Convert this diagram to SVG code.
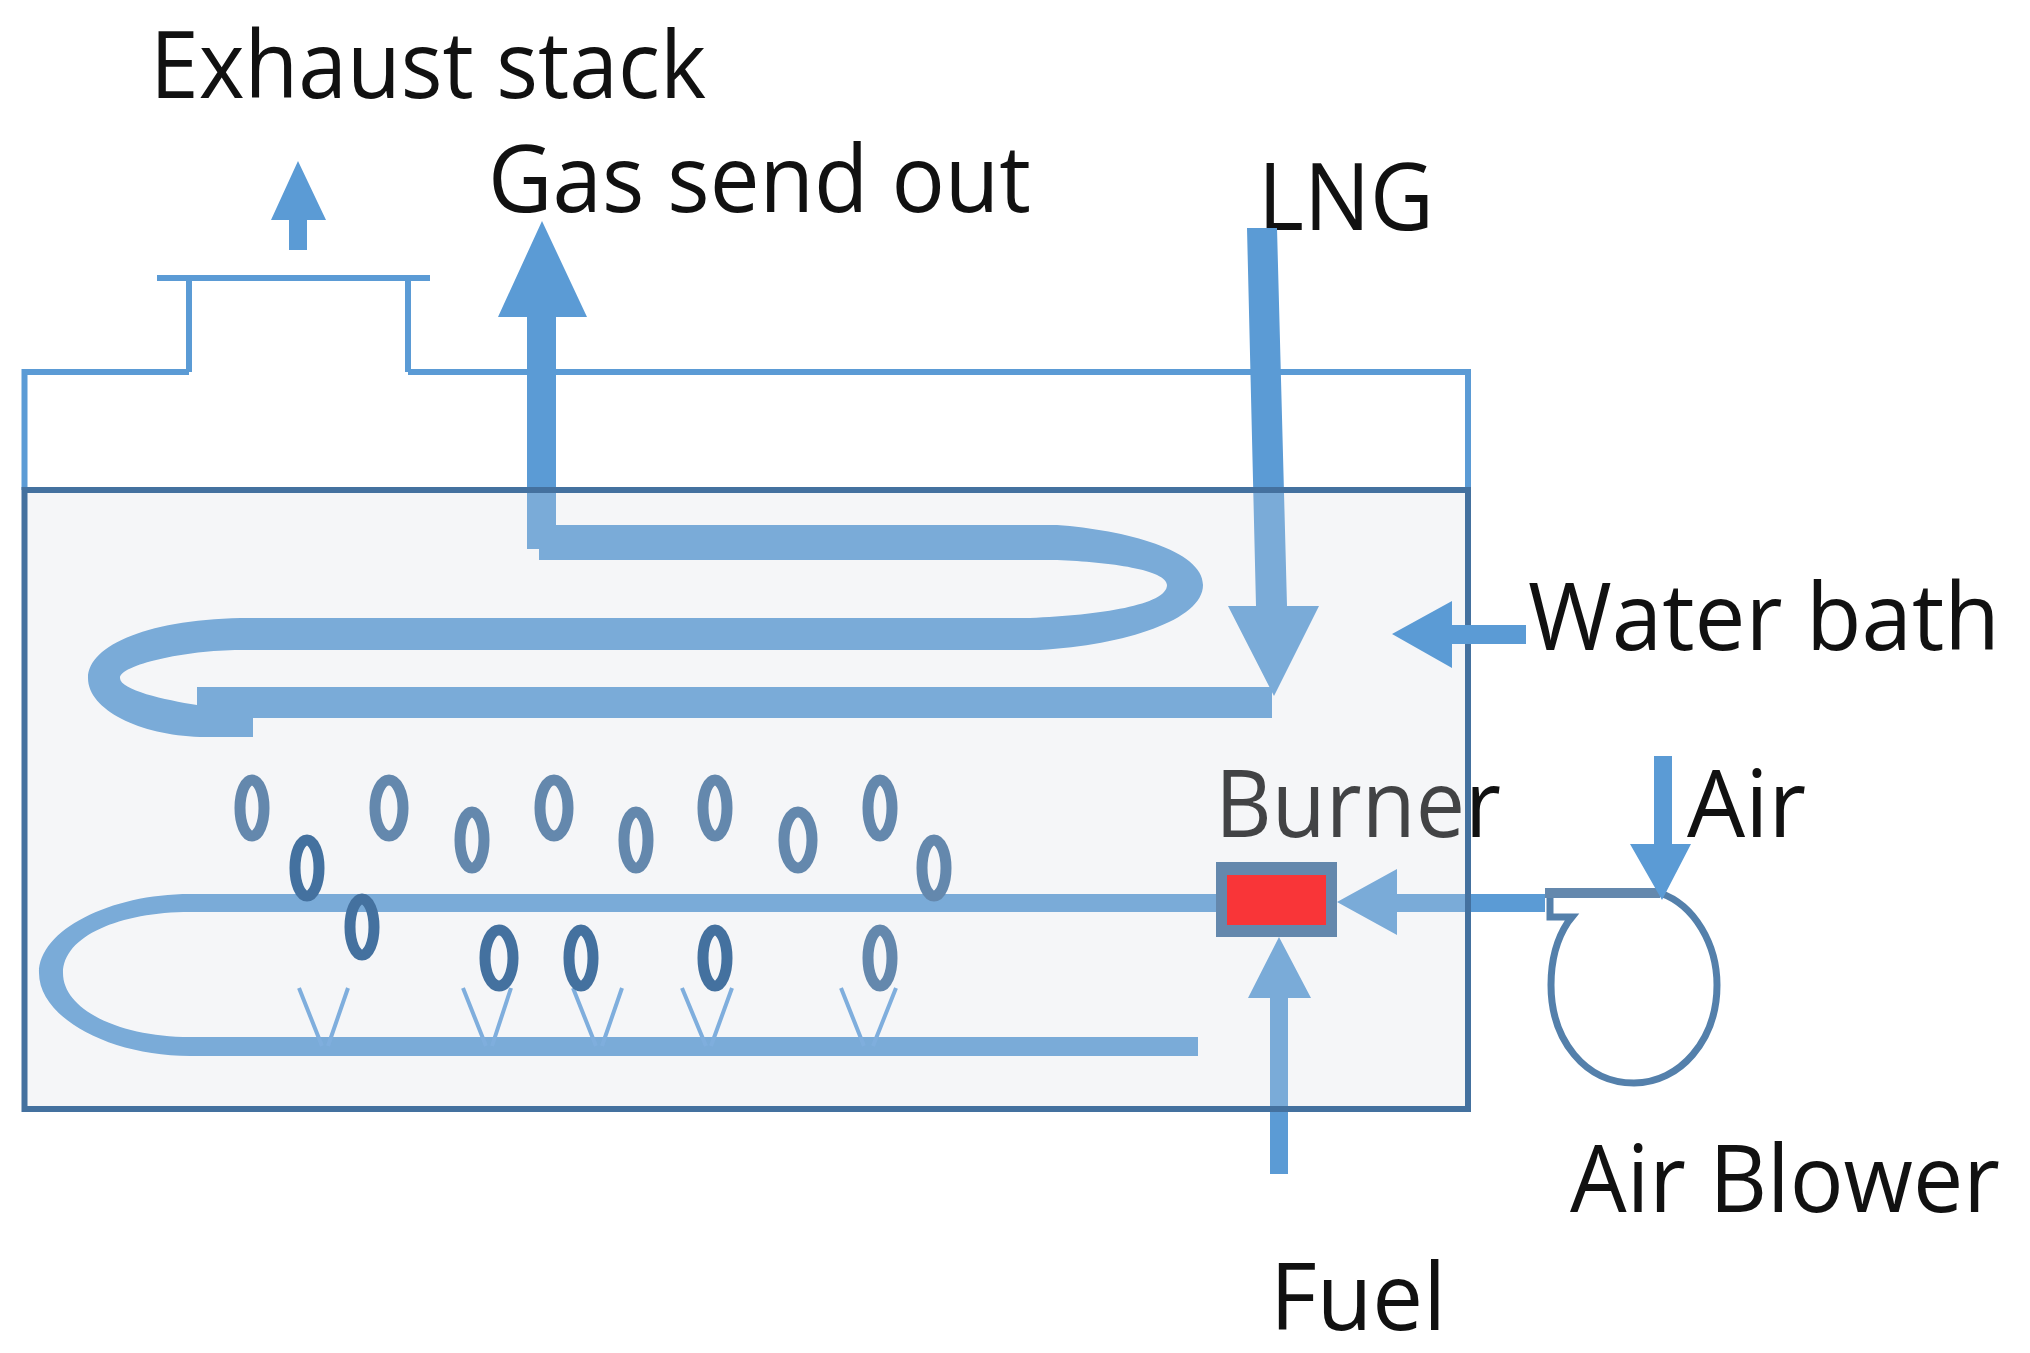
<svg xmlns="http://www.w3.org/2000/svg" width="2030" height="1353" viewBox="0 0 2030 1353">
<style>
.t{font-family:"Open Sans","Liberation Sans",sans-serif;font-size:93px;fill:#111}
.b{fill:#5B9BD5}
.o{fill:none;stroke:#5B9BD5;stroke-width:6}
.v{fill:none;stroke:#7FAEDD;stroke-width:4}
.l{fill:none;stroke:#6488AD;stroke-width:11}
.d{fill:none;stroke:#44719F;stroke-width:11}
</style>
<rect width="2030" height="1353" fill="#fff"/>
<g id="labels">
<text class="t" x="150" y="98" textLength="556" lengthAdjust="spacingAndGlyphs">Exhaust stack</text>
<text class="t" x="488" y="212" textLength="543" lengthAdjust="spacingAndGlyphs">Gas send out</text>
<text class="t" x="1258" y="230" textLength="176" lengthAdjust="spacingAndGlyphs">LNG</text>
<text class="t" x="1528" y="650" textLength="472" lengthAdjust="spacingAndGlyphs">Water bath</text>
<text class="t" x="1215" y="837" textLength="286" lengthAdjust="spacingAndGlyphs">Burner</text>
<text class="t" x="1687" y="837" textLength="119" lengthAdjust="spacingAndGlyphs">Air</text>
<text class="t" x="1570" y="1212" textLength="430" lengthAdjust="spacingAndGlyphs">Air Blower</text>
<text class="t" x="1270" y="1330" textLength="176" lengthAdjust="spacingAndGlyphs">Fuel</text>
</g>
<g id="stack">
<path class="o" d="M157 278H430M189 278V372M408 278V372M24.500 490V372H189M408 372H1468V490"/>
</g>
<g id="connectors">
<path id="exhaust-arrow" class="b" d="M298 161L326 220H307V250H289V220H271Z"/>
<path id="tube-out" class="b" d="M542 221L587 317H556V525H1057C1125 530 1203 550 1203 585C1203 620 1125 645 1040 650H240C185 650 120 665 120 678C120 690 165 700 197 705V687H1272V718H253V737H200C140 735 88 710 88 678C88 645 150 618 250 618H1030C1100 615 1167 605 1167 585C1167 570 1110 562 1057 560H539V549H527V317H498Z"/>
<path id="lng" class="b" d="M1247 228H1277L1287 606H1319L1274 696L1228 606H1256Z"/>
<path id="flue-tube" class="b" d="M1198 1037H190C120 1037 63 1010 63 973C63 936 120 912 190 912H1230V894H190C110 894 39 930 39 973C39 1018 110 1056 190 1056H1198Z"/>
<path id="air-feed" class="b" d="M1337 902L1397 869V894H1545V912H1397V935Z"/>
<path id="fuel" class="b" d="M1279 937L1311 998H1288V1174H1270V998H1248Z"/>
</g>
<g id="water-bath">
<rect x="24.500" y="490" width="1443.500" height="619" fill="#D8DCE2" fill-opacity=".25" stroke="#44719F" stroke-width="6"/>
</g>
<g id="flames">
<path class="v" d="M299 988L322 1046M348 988L328 1046M463 988L486 1046M511 988L492 1046M573 988L596 1046M622 988L602 1046M682 988L706 1046M732 988L711 1046M841 988L864 1046M896 988L873 1046"/>
</g>
<g id="bubbles">
<ellipse class="l" cx="252" cy="808" rx="12" ry="28"/>
<ellipse class="l" cx="389" cy="808" rx="14" ry="28"/>
<ellipse class="l" cx="472" cy="840" rx="12" ry="28"/>
<ellipse class="l" cx="554" cy="808" rx="14" ry="28"/>
<ellipse class="l" cx="636" cy="840" rx="12" ry="28"/>
<ellipse class="l" cx="715" cy="808" rx="12" ry="28"/>
<ellipse class="l" cx="798" cy="840" rx="14" ry="28"/>
<ellipse class="l" cx="880" cy="808" rx="12" ry="28"/>
<ellipse class="l" cx="934" cy="868" rx="12" ry="28"/>
<ellipse class="l" cx="880" cy="958" rx="12" ry="28"/>
<ellipse class="d" cx="307" cy="868" rx="12" ry="28"/>
<ellipse class="d" cx="362" cy="927" rx="12" ry="28"/>
<ellipse class="d" cx="499" cy="958" rx="14" ry="28"/>
<ellipse class="d" cx="581" cy="958" rx="12" ry="28"/>
<ellipse class="d" cx="715" cy="958" rx="12" ry="28"/>
</g>
<g id="water-bath-arrow">
<path class="b" d="M1392 634L1452 601V625H1526V644H1452V668Z"/>
</g>
<g id="burner">
<rect x="1216" y="862" width="121" height="75" fill="#6488AD"/>
<rect x="1227" y="875" width="99" height="50" fill="#F93538"/>
</g>
<g id="air-blower">
<path d="M1550 893H1660C1695 905 1717 945 1717 985C1717 1040 1680 1083 1634 1083C1585 1083 1551 1040 1551 985C1551 960 1556 940 1568 922L1572 917H1550Z" fill="#fff" stroke="#5480AB" stroke-width="7"/>
<path d="M1545 893H1660" stroke="#6488AD" stroke-width="10" fill="none"/>
</g>
<g id="air-arrow">
<path class="b" d="M1654 756H1672V844H1691L1662 900L1630 844H1654Z"/>
</g>
</svg>
